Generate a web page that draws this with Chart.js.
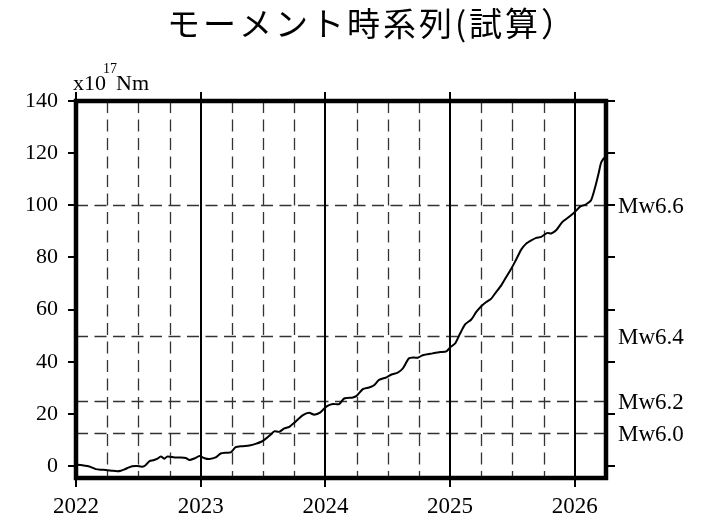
<!DOCTYPE html>
<html lang="ja">
<head>
<meta charset="utf-8">
<title>モーメント時系列(試算)</title>
<script src="https://cdn.jsdelivr.net/npm/chart.js@4.4.1/dist/chart.umd.min.js"></script>
<style>
  html, body { margin: 0; padding: 0; background: #fff; }
</style>
</head>
<body>
<canvas id="momentChart" width="709" height="521"></canvas>
<script>
// cumulative moment, x10^17 Nm, sampled along decimal years
const years = [
  2022.00, 2022.05, 2022.09, 2022.13, 2022.16, 2022.20, 2022.24, 2022.29, 2022.33, 2022.36,
  2022.39, 2022.42, 2022.45, 2022.49, 2022.53, 2022.56, 2022.59, 2022.62, 2022.65, 2022.68,
  2022.71, 2022.73, 2022.79, 2022.84, 2022.88, 2022.91, 2022.95, 2022.99, 2023.03, 2023.07,
  2023.12, 2023.16, 2023.20, 2023.24, 2023.28, 2023.33, 2023.39, 2023.44, 2023.49, 2023.52,
  2023.56, 2023.59, 2023.63, 2023.67, 2023.71, 2023.76, 2023.82, 2023.87, 2023.91, 2023.96,
  2024.01, 2024.06, 2024.11, 2024.15, 2024.22, 2024.25, 2024.30, 2024.35, 2024.39, 2024.43,
  2024.49, 2024.53, 2024.58, 2024.62, 2024.67, 2024.71, 2024.74, 2024.78, 2024.86, 2024.92,
  2024.97, 2025.00, 2025.04, 2025.08, 2025.12, 2025.17, 2025.21, 2025.25, 2025.29, 2025.33,
  2025.37, 2025.41, 2025.45, 2025.49, 2025.52, 2025.57, 2025.61, 2025.65, 2025.69, 2025.73,
  2025.78, 2025.81, 2025.85, 2025.90, 2025.96, 2026.00, 2026.04, 2026.09, 2026.13, 2026.16,
  2026.19, 2026.21, 2026.23, 2026.245
];
const moment = [
  0.5, 0.3, 0.0, -0.6, -1.2, -1.4, -1.5, -1.8, -2.0, -1.8,
  -1.3, -0.6, -0.1, 0.0, -0.3, 0.4, 1.9, 2.2, 2.7, 3.6,
  2.8, 3.6, 3.3, 3.3, 3.1, 2.3, 2.9, 3.8, 3.0, 2.7,
  3.3, 4.8, 5.1, 5.2, 7.2, 7.6, 7.9, 8.5, 9.4, 10.4,
  12.0, 13.3, 13.1, 14.4, 15.0, 17.0, 19.5, 20.4, 19.7, 20.6,
  22.9, 23.8, 23.7, 25.9, 26.3, 26.9, 29.5, 30.1, 31.0, 33.0,
  34.0, 35.1, 35.8, 37.4, 41.3, 41.6, 41.5, 42.5, 43.2, 43.7,
  44.0, 45.5, 47.0, 50.8, 54.3, 56.2, 59.1, 61.3, 62.9, 64.2,
  66.8, 69.3, 72.5, 75.7, 78.3, 83.0, 85.3, 86.5, 87.5, 87.9,
  89.4, 89.2, 90.4, 93.6, 95.8, 97.4, 99.4, 100.4, 101.9, 106.4,
  112.1, 116.2, 117.9, 118.5
];

const yearTicks = [2022, 2023, 2024, 2025, 2026];
const yTicks = [0, 20, 40, 60, 80, 100, 120, 140];
const mwLevels = [100, 50, 25, 12.5];
const mwLabels = ['Mw6.6', 'Mw6.4', 'Mw6.2', 'Mw6.0'];

const X_MIN = 2022, X_MAX = 2026.25;
const Y_MIN = -4.6, Y_MAX = 140;

// quarter-year grid positions (year lines solid, the rest dashed)
const quarterTicks = [];
for (let q = X_MIN; q <= X_MAX + 1e-9; q += 0.25) quarterTicks.push(+q.toFixed(2));

const serif = '"Liberation Serif", "DejaVu Serif", serif';

const framePlugin = {
  id: 'frame',
  beforeDatasetsDraw(chart) {
    const { ctx, chartArea: a, scales: { x, y } } = chart;
    ctx.save();

    // dashed quarter lines
    ctx.strokeStyle = '#333';
    ctx.lineWidth = 1.3;
    ctx.setLineDash([12, 6.5]);
    quarterTicks.forEach(v => {
      if (yearTicks.includes(v) || v >= X_MAX) return;
      const px = Math.round(x.getPixelForValue(v)) + 0.5;
      ctx.beginPath();
      ctx.moveTo(px, a.top);
      ctx.lineTo(px, a.bottom);
      ctx.stroke();
    });

    // Mw reference levels
    mwLevels.forEach(v => {
      const py = Math.round(y.getPixelForValue(v)) + 0.5;
      ctx.beginPath();
      ctx.moveTo(a.left, py);
      ctx.lineTo(a.right, py);
      ctx.stroke();
    });

    // solid year lines, poking out past the frame as ticks
    ctx.setLineDash([]);
    ctx.strokeStyle = '#000';
    ctx.lineWidth = 2;
    yearTicks.forEach(v => {
      const px = Math.round(x.getPixelForValue(v));
      ctx.beginPath();
      ctx.moveTo(px, a.top - 9);
      ctx.lineTo(px, a.bottom + 9);
      ctx.stroke();
    });
    ctx.restore();
  },
  afterDatasetsDraw(chart) {
    const { ctx, chartArea: a, scales: { y } } = chart;
    ctx.save();

    // y ticks on both sides
    ctx.strokeStyle = '#000';
    ctx.lineWidth = 2;
    yTicks.forEach(v => {
      const py = Math.round(y.getPixelForValue(v));
      ctx.beginPath();
      ctx.moveTo(a.left - 8, py);
      ctx.lineTo(a.left, py);
      ctx.moveTo(a.right, py);
      ctx.lineTo(a.right + 9, py);
      ctx.stroke();
    });

    // heavy frame
    ctx.lineWidth = 4.5;
    ctx.strokeRect(a.left, a.top, a.right - a.left, a.bottom - a.top);

    // Mw labels on the right
    ctx.fillStyle = '#000';
    ctx.font = '23px ' + serif;
    ctx.textAlign = 'left';
    ctx.textBaseline = 'middle';
    mwLevels.forEach((v, i) => {
      ctx.fillText(mwLabels[i], a.right + 12, y.getPixelForValue(v) + 2);
    });

    // unit label x10^17 Nm
    ctx.textBaseline = 'alphabetic';
    ctx.font = '22px ' + serif;
    let ux = a.left - 3;
    const uy = a.top - 11;
    ctx.fillText('x10', ux, uy);
    ux += ctx.measureText('x10').width - 3;
    ctx.font = '14px ' + serif;
    ctx.fillText('17', ux, uy - 17);
    ux += ctx.measureText('17').width - 1;
    ctx.font = '22px ' + serif;
    ctx.fillText('Nm', ux, uy);

    // title
    ctx.font = '33px "Noto Sans CJK JP", sans-serif';
    ctx.letterSpacing = '3px';
    ctx.textAlign = 'center';
    ctx.textBaseline = 'middle';
    ctx.fillText('モーメント時系列(試算）', 372, 23);
    ctx.restore();
  }
};

const ctx = document.getElementById('momentChart').getContext('2d');
const momentChart = new Chart(ctx, {
  type: 'line',
  data: {
    datasets: [{
      data: years.map((t, i) => ({ x: t, y: moment[i] })),
      borderColor: '#000',
      borderWidth: 2,
      pointRadius: 0,
      tension: 0.2,
      fill: false
    }]
  },
  options: {
    responsive: false,
    animation: false,
    layout: { padding: { top: 101, right: 103, left: 0, bottom: 0 } },
    plugins: {
      legend: { display: false },
      tooltip: { enabled: false },
      title: { display: false }
    },
    scales: {
      x: {
        type: 'linear',
        min: X_MIN,
        max: X_MAX,
        afterBuildTicks: s => { s.ticks = quarterTicks.map(v => ({ value: v })); },
        afterFit: s => { s.height = 43; },
        grid: { display: false, drawTicks: false },
        border: { display: false },
        ticks: {
          autoSkip: false,
          maxRotation: 0,
          padding: 15,
          color: '#000',
          font: { family: serif, size: 23 },
          callback: v => yearTicks.includes(v) ? String(v) : ''
        }
      },
      y: {
        min: Y_MIN,
        max: Y_MAX,
        afterBuildTicks: s => { s.ticks = yTicks.map(v => ({ value: v })); },
        afterFit: s => { s.width = 76; },
        grid: { display: false, drawTicks: false },
        border: { display: false },
        ticks: {
          padding: 18,
          color: '#000',
          font: { family: serif, size: 22 },
          callback: v => String(v)
        }
      }
    }
  },
  plugins: [framePlugin]
});
</script>
</body>
</html>
